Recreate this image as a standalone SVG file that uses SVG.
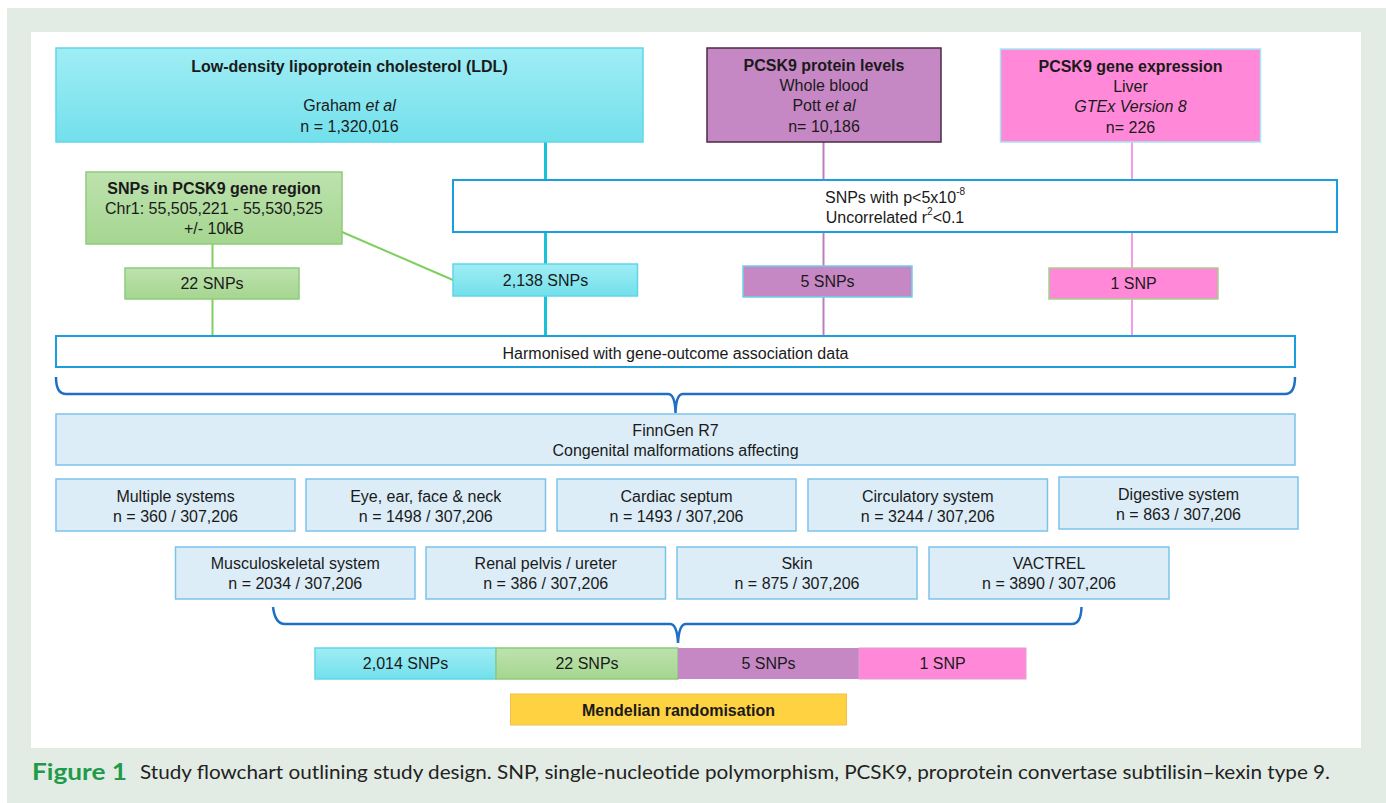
<svg xmlns="http://www.w3.org/2000/svg" width="1386" height="803" viewBox="0 0 1386 803">
<defs>
<linearGradient id="gCyan" x1="0" y1="0" x2="0" y2="1"><stop offset="0" stop-color="#a0edf5"/><stop offset="1" stop-color="#72e0eb"/></linearGradient>
<linearGradient id="gGreen" x1="0" y1="0" x2="0" y2="1"><stop offset="0" stop-color="#bde2ae"/><stop offset="1" stop-color="#a5d690"/></linearGradient>
<style>
text{font-family:"Liberation Sans",Arial,sans-serif;font-size:16px;fill:#1a1a1a;text-anchor:middle;dominant-baseline:central}
.b{font-weight:bold}
.i{font-style:italic}
.cy{fill:url(#gCyan);stroke:#5fd6e8;stroke-width:1.5}
.gr{fill:url(#gGreen);stroke:#8fcb7c;stroke-width:1.5}
.pu{fill:#c688c4}
.pk{fill:#ff89d8}
.wh{fill:#fff;stroke:#1b9ede;stroke-width:2}
.lb{fill:#dcedf8;stroke:#7cc3ea;stroke-width:1.5}
.cap{font-family:Lato,"Open Sans",sans-serif;text-anchor:start;font-size:19px;fill:#222}
</style>
</defs>
<rect x="0" y="0" width="1386" height="803" fill="#fff"/>
<rect x="7" y="8" width="1379" height="795" fill="#e2ece4"/>
<rect x="31" y="32" width="1330" height="716" fill="#fff"/>

<g id="connectors" fill="none">
<line x1="545.5" y1="142" x2="545.5" y2="336" stroke="#18c2d9" stroke-width="3"/>
<line x1="212.5" y1="244" x2="212.5" y2="336" stroke="#7fcf5f" stroke-width="2"/>
<line x1="342" y1="232" x2="453" y2="280" stroke="#7fcf5f" stroke-width="2"/>
<line x1="823.5" y1="142" x2="823.5" y2="336" stroke="#c07cc0" stroke-width="2"/>
<line x1="1132" y1="142" x2="1132" y2="336" stroke="#f59be8" stroke-width="2"/>
<path d="M56,377 Q56,394 66,394 L668,394 Q675,394 675.5,413 Q676,394 683,394 L1285,394 Q1295,394 1295,377" stroke="#1f6fc5" stroke-width="2.5"/>
<path d="M273,607 Q275,624 285,624 L670,624 Q677,624 678,643 Q679,624 686,624 L1072,624 Q1081,624 1081.5,607" stroke="#1f6fc5" stroke-width="2.5"/>
</g>

<g id="ldl">
<rect class="cy" x="56" y="48" width="587" height="94"/>
<text class="b" x="349.5" y="66" font-size="15">Low-density lipoprotein cholesterol (LDL)</text>
<text x="349.5" y="105">Graham <tspan class="i">et al</tspan></text>
<text x="349.5" y="126">n = 1,320,016</text>
</g>

<g id="protein">
<rect class="pu" x="707" y="48" width="234" height="94" stroke="#4a2a45" stroke-width="1.5"/>
<text class="b" x="824" y="65" font-size="15">PCSK9 protein levels</text>
<text x="824" y="85">Whole blood</text>
<text x="824" y="105">Pott <tspan class="i">et al</tspan></text>
<text x="824" y="126">n= 10,186</text>
</g>

<g id="expression">
<rect class="pk" x="1000.5" y="49" width="260" height="93" stroke="#a4e6f2" stroke-width="1.5"/>
<text class="b" x="1130.5" y="66" font-size="15">PCSK9 gene expression</text>
<text x="1130.5" y="86">Liver</text>
<text class="i" x="1130.5" y="106">GTEx Version 8</text>
<text x="1130.5" y="127">n= 226</text>
</g>

<g id="region">
<rect class="gr" x="86" y="172" width="256" height="72"/>
<text class="b" x="214" y="188" font-size="15">SNPs in PCSK9 gene region</text>
<text x="214" y="208">Chr1: 55,505,221 - 55,530,525</text>
<text x="214" y="228">+/- 10kB</text>
</g>

<g id="filter">
<rect class="wh" x="453" y="180" width="884" height="52"/>
<text x="895" y="197">SNPs with p&lt;5x10<tspan font-size="10" dy="-6">-8</tspan></text>
<text x="895" y="217">Uncorrelated r<tspan font-size="10" dy="-6">2</tspan><tspan dy="6">&lt;0.1</tspan></text>
</g>

<g id="snps22">
<rect class="gr" x="125" y="268" width="174" height="31"/>
<text x="212" y="283.5">22 SNPs</text>
</g>
<g id="snps2138">
<rect class="cy" x="453" y="264" width="184.5" height="32"/>
<text x="545.5" y="280">2,138 SNPs</text>
</g>
<g id="snps5">
<rect class="pu" x="743" y="266" width="169" height="31" stroke="#6fd0e8" stroke-width="1.5"/>
<text x="827.5" y="281.5">5 SNPs</text>
</g>
<g id="snp1">
<rect class="pk" x="1049" y="268" width="169" height="31" stroke="#a8d08d" stroke-width="1.5"/>
<text x="1133.5" y="283.5">1 SNP</text>
</g>

<g id="harmonised">
<rect class="wh" x="56" y="336" width="1239" height="31"/>
<text x="675.5" y="353">Harmonised with gene-outcome association data</text>
</g>

<g id="finngen">
<rect class="lb" x="56" y="414" width="1239" height="51"/>
<text x="675.5" y="430">FinnGen R7</text>
<text x="675.5" y="450">Congenital malformations affecting</text>
</g>

<g id="multiple"><rect class="lb" x="56" y="479" width="239" height="52"/><text x="175.5" y="496">Multiple systems</text><text x="175.5" y="516">n = 360 / 307,206</text></g>
<g id="eye"><rect class="lb" x="306" y="479" width="239.5" height="52"/><text x="425.75" y="496">Eye, ear, face &amp; neck</text><text x="425.75" y="516">n = 1498 / 307,206</text></g>
<g id="cardiac"><rect class="lb" x="557" y="479" width="239" height="52"/><text x="676.5" y="496">Cardiac septum</text><text x="676.5" y="516">n = 1493 / 307,206</text></g>
<g id="circulatory"><rect class="lb" x="808" y="479" width="239.5" height="52"/><text x="927.75" y="496">Circulatory system</text><text x="927.75" y="516">n = 3244 / 307,206</text></g>
<g id="digestive"><rect class="lb" x="1059" y="477" width="239" height="52"/><text x="1178.5" y="494">Digestive system</text><text x="1178.5" y="514">n = 863 / 307,206</text></g>

<g id="musculo"><rect class="lb" x="175.5" y="547" width="239.5" height="52"/><text x="295.25" y="563">Musculoskeletal system</text><text x="295.25" y="583">n = 2034 / 307,206</text></g>
<g id="renal"><rect class="lb" x="426" y="547" width="239.5" height="52"/><text x="545.75" y="563">Renal pelvis / ureter</text><text x="545.75" y="583">n = 386 / 307,206</text></g>
<g id="skin"><rect class="lb" x="677" y="547" width="240" height="52"/><text x="797" y="563">Skin</text><text x="797" y="583">n = 875 / 307,206</text></g>
<g id="vactrel"><rect class="lb" x="929" y="547" width="240" height="52"/><text x="1049" y="563">VACTREL</text><text x="1049" y="583">n = 3890 / 307,206</text></g>

<g id="bar2014"><rect class="cy" x="315" y="648" width="181" height="31"/><text x="405.5" y="663.5">2,014 SNPs</text></g>
<g id="bar22"><rect class="gr" x="496" y="648" width="182" height="31"/><text x="587" y="663.5">22 SNPs</text></g>
<g id="bar5"><rect class="pu" x="678" y="648" width="181" height="31"/><text x="768.5" y="663.5">5 SNPs</text></g>
<g id="bar1"><rect class="pk" x="859" y="648" width="167" height="31" stroke="#e0a0d0" stroke-width="1"/><text x="942.5" y="663.5">1 SNP</text></g>

<g id="mr">
<rect x="510.5" y="694" width="336" height="31" fill="#ffd242" stroke="#f0c050" stroke-width="1"/>
<text class="b" x="678.5" y="710" font-size="15">Mendelian randomisation</text>
</g>

<g id="caption">
<text class="cap" x="32" y="771" font-size="23" font-weight="bold" fill="#1e9a4a" style="fill:#1e9a4a;font-size:23px;font-weight:bold" textLength="95" lengthAdjust="spacingAndGlyphs">Figure 1</text>
<text class="cap" x="140" y="771" textLength="1190" lengthAdjust="spacingAndGlyphs">Study flowchart outlining study design. SNP, single-nucleotide polymorphism, PCSK9, proprotein convertase subtilisin–kexin type 9.</text>
</g>
</svg>
